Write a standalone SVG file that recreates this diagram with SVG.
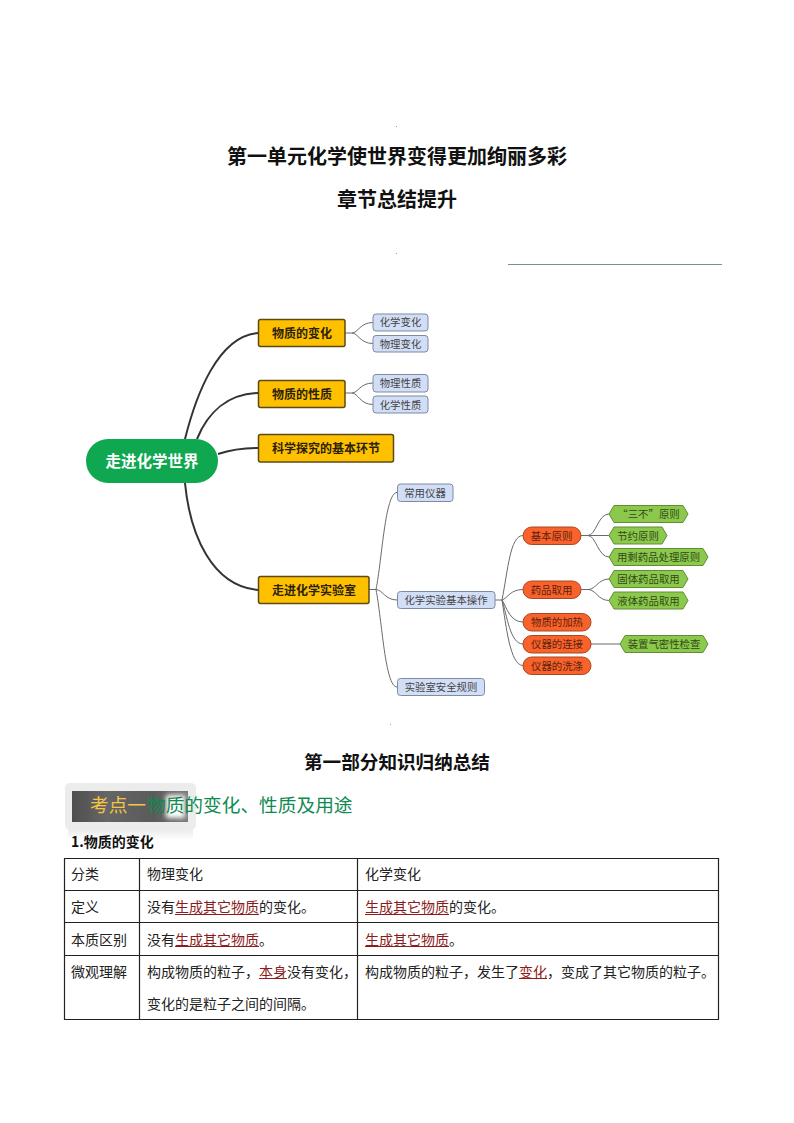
<svg xmlns="http://www.w3.org/2000/svg" width="794" height="1123" viewBox="0 0 794 1123">
<style>
text{font-family:"Noto Sans CJK SC","Noto Sans",sans-serif;fill:#111}
.title{font-size:20px;font-weight:700;text-anchor:middle}
.l1 rect{fill:#ffc000;stroke:#5c4a14;stroke-width:1.5}
.l1 text{font-size:12px;font-weight:700;fill:#2a2208;text-anchor:middle}
.l2 rect{fill:#d2def6;stroke:#7d8ba3;stroke-width:1}
.l2 text,.l3 text,.l4 text{font-size:10.4px;fill:#444;text-anchor:middle}
.l3 rect{fill:#f9622a;stroke:#a8481f;stroke-width:1}
.l3 text{fill:#5a2410}
.l4 polygon{fill:#8cc84b;stroke:#5f8f35;stroke-width:1}
.l4 text{fill:#2f4a18}
.thick{fill:none;stroke:#333;stroke-width:2}
.thin{fill:none;stroke:#6a6a6a;stroke-width:1}
.g line{stroke:#222;stroke-width:1.2}
.c{font-size:14px;fill:#222}
.r{fill:#8a1c1c}
.u{stroke:#8a1c1c;stroke-width:1}
.speck{fill:#999}
</style>
<defs>
<linearGradient id="bd" x1="0" x2="1" y1="0" y2="0">
<stop offset="0" stop-color="#4e4e4e"/><stop offset="0.3" stop-color="#666"/><stop offset="0.7" stop-color="#5a5a5a"/><stop offset="1" stop-color="#777"/>
</linearGradient>
<linearGradient id="bs" x1="0" x2="0" y1="0" y2="1">
<stop offset="0" stop-color="#ececec"/><stop offset="1" stop-color="#fff"/>
</linearGradient>
<filter id="soft" x="-5%" y="-5%" width="110%" height="110%"><feGaussianBlur stdDeviation="0.6"/></filter>
<filter id="glow" x="-40%" y="-40%" width="180%" height="180%"><feGaussianBlur stdDeviation="2.5"/></filter>
</defs>
<rect width="794" height="1123" fill="#fff"/>

<text class="title" x="397" y="164">第一单元化学使世界变得更加绚丽多彩</text>
<text class="title" x="397" y="207">章节总结提升</text>
<line x1="508" y1="264.5" x2="722" y2="264.5" stroke="#6a9a8f" stroke-width="1"/>
<rect class="speck" x="396" y="126" width="1" height="1"/>
<rect class="speck" x="396" y="253" width="1" height="1"/>
<rect class="speck" x="390" y="724" width="1" height="1"/>

<g id="connectors">
<path class="thick" d="M185 439C196 395 218 336 258 333"/>
<path class="thick" d="M197 439C208 412 228 394 258 393"/>
<path class="thick" d="M218 454C230 450 240 448 258 448"/>
<path class="thick" d="M185 483C190 535 212 586 258 590"/>
<path class="thin" d="M345 333H352C358 333 360 322.500 373 322.500M352 333C358 333 360 343.500 373 343.500"/>
<path class="thin" d="M345 393H352C358 393 360 383 373 383M352 393C358 393 360 404.500 373 404.500"/>
<path class="thin" d="M369 589.500H376C382 560 385 492.500 397 492.500M376 589.500C383 590 385 600 397 600M376 589.500C382 620 385 687 397 687"/>
<path class="thin" d="M495 600H502C508 570 510 535.500 523 535.500M502 600C508 598 510 589.500 523 589.500M502 600C507 608 510 622 523 622M502 600C507 615 510 644 523 644M502 600C506 625 510 665.500 523 665.500"/>
<path class="thin" d="M581 535.500H588C596 535.500 598 514 609 514M588 535.500H609M588 535.500C596 535.500 598 557 609 557"/>
<path class="thin" d="M581 589.500H588C596 589.500 598 579 609 579M588 589.500C596 589.500 598 600.500 609 600.500"/>
<path class="thin" d="M591 644H620" stroke="#444"/>
</g>

<g id="root"><rect x="86" y="439" width="132" height="44" rx="22" fill="#0fa750"/><text x="152" y="466.500" font-size="15.500" font-weight="700" text-anchor="middle" style="fill:#fff">走进化学世界</text></g>

<g id="n-change" class="l1"><rect x="258.500" y="319.500" width="86.500" height="27" rx="2"/><text x="302" y="337.500">物质的变化</text></g>
<g id="n-prop" class="l1"><rect x="258.500" y="380.500" width="86.500" height="27" rx="2"/><text x="302" y="398.500">物质的性质</text></g>
<g id="n-inquiry" class="l1"><rect x="258.500" y="434.500" width="135" height="27.500" rx="2"/><text x="326" y="453">科学探究的基本环节</text></g>
<g id="n-lab" class="l1"><rect x="258.500" y="576.500" width="110.500" height="27" rx="2"/><text x="314" y="594.500">走进化学实验室</text></g>

<g id="b-chem" class="l2"><rect x="373" y="314" width="55" height="17" rx="3"/><text x="400.500" y="326">化学变化</text></g>
<g id="b-phys" class="l2"><rect x="373" y="335.500" width="55" height="16.500" rx="3"/><text x="400.500" y="347.500">物理变化</text></g>
<g id="b-physp" class="l2"><rect x="373" y="374.500" width="55" height="17.500" rx="3"/><text x="400.500" y="387">物理性质</text></g>
<g id="b-chemp" class="l2"><rect x="373" y="396" width="55" height="17" rx="3"/><text x="400.500" y="408.500">化学性质</text></g>
<g id="b-tools" class="l2"><rect x="397.500" y="484" width="55.500" height="17.500" rx="3"/><text x="425" y="496.500">常用仪器</text></g>
<g id="b-ops" class="l2"><rect x="397.500" y="591.500" width="97.500" height="17" rx="3"/><text x="446" y="604">化学实验基本操作</text></g>
<g id="b-safety" class="l2"><rect x="397.500" y="678.500" width="87" height="17" rx="3"/><text x="441" y="691">实验室安全规则</text></g>

<g id="o-basic" class="l3"><rect x="523" y="527" width="58" height="17.500" rx="8.700"/><text x="551.500" y="539.500">基本原则</text></g>
<g id="o-take" class="l3"><rect x="523" y="581" width="58" height="17.500" rx="8.700"/><text x="551.500" y="593.500">药品取用</text></g>
<g id="o-heat" class="l3"><rect x="523" y="613.500" width="68" height="17.500" rx="8.700"/><text x="557" y="626">物质的加热</text></g>
<g id="o-conn" class="l3"><rect x="523" y="635.500" width="68" height="17.500" rx="8.700"/><text x="557" y="648">仪器的连接</text></g>
<g id="o-wash" class="l3"><rect x="523" y="657" width="68" height="17.500" rx="8.700"/><text x="557" y="669.500">仪器的洗涤</text></g>

<g id="h-three" class="l4"><polygon points="609,514 614,505.500 683,505.500 688,514 683,522.500 614,522.500"/><text x="648.500" y="518">“三不”原则</text></g>
<g id="h-save" class="l4"><polygon points="609,535.500 614,527 662,527 667,535.500 662,544 614,544"/><text x="638" y="539.500">节约原则</text></g>
<g id="h-left" class="l4"><polygon points="609,557 614,548.500 703,548.500 708,557 703,565.500 614,565.500"/><text x="658.500" y="561">用剩药品处理原则</text></g>
<g id="h-solid" class="l4"><polygon points="609,579 614,570.500 683,570.500 688,579 683,587.500 614,587.500"/><text x="648.500" y="583">固体药品取用</text></g>
<g id="h-liquid" class="l4"><polygon points="609,600.500 614,592 683,592 688,600.500 683,609 614,609"/><text x="648.500" y="604.500">液体药品取用</text></g>
<g id="h-seal" class="l4"><polygon points="620,644 625,635.500 703,635.500 708,644 703,652.500 625,652.500"/><text x="664" y="648">装置气密性检查</text></g>

<text class="title" x="397" y="769" style="font-size:18.600px">第一部分知识归纳总结</text>

<rect x="65" y="783" width="131" height="47" rx="5" fill="#ececec"/>
<rect x="68" y="830" width="125" height="10" fill="url(#bs)"/>
<rect x="72" y="791" width="116" height="31" fill="url(#bd)" filter="url(#soft)"/>
<rect x="166" y="795" width="19" height="23" fill="#fff" filter="url(#glow)"/>
<text x="90" y="812" font-size="18.700" style="fill:#f5c542">考点一</text>
<text x="147" y="812" font-size="18.700" style="fill:#0f8a50">物质的变化、性质及用途</text>

<text x="71" y="847" font-size="14" font-weight="700">1.物质的变化</text>

<g class="g">
<line x1="64.500" y1="858.500" x2="719" y2="858.500"/>
<line x1="64.500" y1="890.500" x2="719" y2="890.500"/>
<line x1="64.500" y1="922.500" x2="719" y2="922.500"/>
<line x1="64.500" y1="955.500" x2="719" y2="955.500"/>
<line x1="64.500" y1="1019.500" x2="719" y2="1019.500"/>
<line x1="64.500" y1="858" x2="64.500" y2="1020"/>
<line x1="139.500" y1="858" x2="139.500" y2="1020"/>
<line x1="357.500" y1="858" x2="357.500" y2="1020"/>
<line x1="718.500" y1="858" x2="718.500" y2="1020"/>
</g>
<text class="c" x="71" y="879">分类</text>
<text class="c" x="147" y="879">物理变化</text>
<text class="c" x="365" y="879">化学变化</text>
<text class="c" x="71" y="912">定义</text>
<text class="c" x="147" y="912">没有<tspan class="r">生成其它物质</tspan>的变化。</text>
<text class="c" x="365" y="912"><tspan class="r">生成其它物质</tspan>的变化。</text>
<text class="c" x="71" y="944.500">本质区别</text>
<text class="c" x="147" y="944.500">没有<tspan class="r">生成其它物质</tspan>。</text>
<text class="c" x="365" y="944.500"><tspan class="r">生成其它物质</tspan>。</text>
<text class="c" x="71" y="977">微观理解</text>
<text class="c" x="147" y="977">构成物质的粒子，<tspan class="r">本身</tspan>没有变化，</text>
<text class="c" x="147" y="1009">变化的是粒子之间的间隔。</text>
<text class="c" x="365" y="977">构成物质的粒子，发生了<tspan class="r">变化</tspan>，变成了其它物质的粒子。</text>
<line class="u" x1="175" y1="914.500" x2="259" y2="914.500"/>
<line class="u" x1="365" y1="914.500" x2="449" y2="914.500"/>
<line class="u" x1="175" y1="946.500" x2="259" y2="946.500"/>
<line class="u" x1="365" y1="946.500" x2="449" y2="946.500"/>
<line class="u" x1="259" y1="978.500" x2="287" y2="978.500"/>
<line class="u" x1="519" y1="978.500" x2="547" y2="978.500"/>
</svg>
